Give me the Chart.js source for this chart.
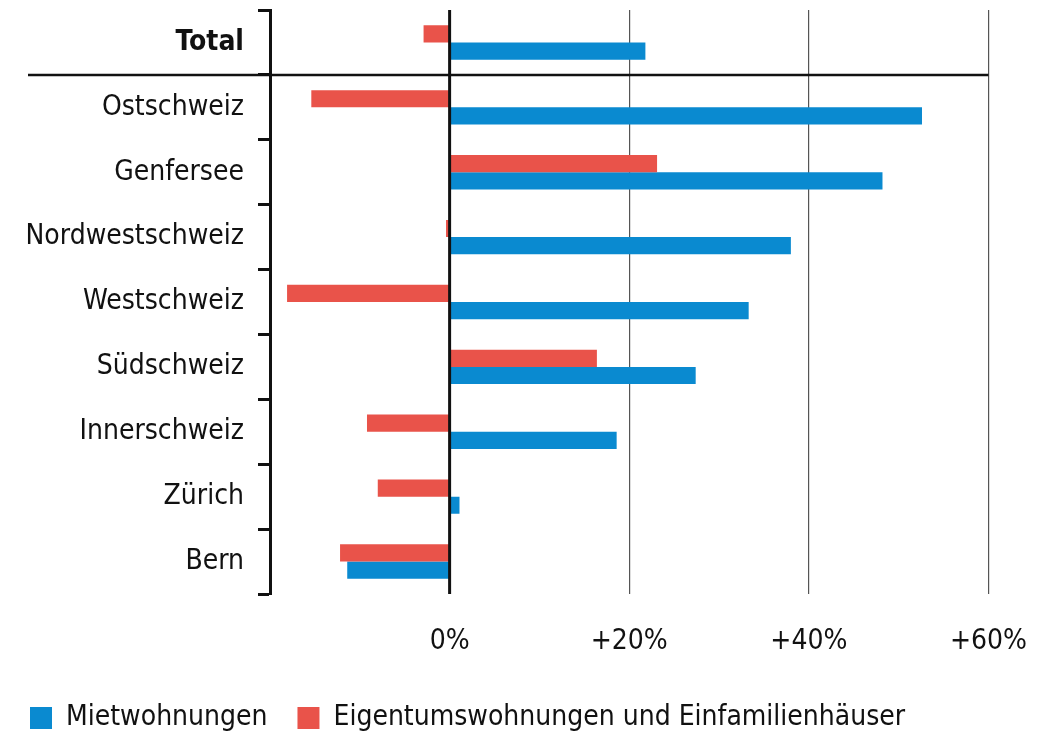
<!DOCTYPE html>
<html lang="de">
<head>
  <meta charset="UTF-8">
  <title>Mietwohnungen vs. Eigentum</title>
  <script src="https://cdn.jsdelivr.net/npm/chart.js"></script>
  <style>
    body { margin: 0; background: #fff; }
    #wrap { width: 1058px; height: 734px; }
  </style>
</head>
<body>
  <div id="wrap"><canvas id="chart"></canvas></div>
  <script>
    const regions = ['Total', 'Ostschweiz', 'Genfersee', 'Nordwestschweiz', 'Westschweiz',
                     'Südschweiz', 'Innerschweiz', 'Zürich', 'Bern'];
    const mietwohnungen = [21.8, 52.6, 48.2, 38.0, 33.3, 27.4, 18.6, 1.1, -11.4];
    const eigentum = [-2.9, -15.4, 23.1, -0.4, -18.1, 16.4, -9.2, -8.0, -12.2];
    const xTicks = [-20, 0, 20, 40, 60];

    const BLUE = '#0a8ad0';
    const RED = '#e9534a';
    const FONT = "'DejaVu Sans Condensed', 'Liberation Sans Narrow', sans-serif";

    // black separator under "Total" and the zero line on top of the bars
    const overlay = {
      id: 'overlay',
      afterDatasetsDraw(chart) {
        const { ctx, chartArea, scales } = chart;
        ctx.save();
        ctx.strokeStyle = '#111';
        ctx.lineWidth = 3;
        const x0 = scales.x.getPixelForValue(0);
        ctx.beginPath();
        ctx.moveTo(x0, chartArea.top);
        ctx.lineTo(x0, chartArea.bottom);
        ctx.stroke();
        const ySep = (scales.y.getPixelForValue(0) + scales.y.getPixelForValue(1)) / 2;
        ctx.lineWidth = 2.5;
        ctx.beginPath();
        ctx.moveTo(28, ySep);
        ctx.lineTo(chartArea.right, ySep);
        ctx.stroke();
        ctx.restore();
      }
    };

    new Chart(document.getElementById('chart'), {
      type: 'bar',
      data: {
        labels: regions,
        datasets: [
          { label: 'Eigentumswohnungen und Einfamilienhäuser', data: eigentum, backgroundColor: RED },
          { label: 'Mietwohnungen', data: mietwohnungen, backgroundColor: BLUE }
        ]
      },
      options: {
        indexAxis: 'y',
        responsive: true,
        maintainAspectRatio: false,
        animation: false,
        datasets: { bar: { categoryPercentage: 0.53, barPercentage: 1.0 } },
        layout: { padding: { top: 10, right: 67, left: 0, bottom: -8 } },
        scales: {
          x: {
            min: -20,
            max: 60,
            afterBuildTicks: (s) => { s.ticks = xTicks.map(v => ({ value: v })); },
            border: { display: false },
            grid: {
              drawTicks: false,
              color: (c) => (c.tick && c.tick.value > 0) ? '#555' : 'rgba(0,0,0,0)',
              lineWidth: 1.2
            },
            ticks: {
              padding: 31,
              color: '#111',
              font: { family: FONT, size: 28 },
              callback: (v) => v < 0 ? '' : (v === 0 ? '0%' : '+' + v + '%')
            },
            afterFit: (s) => { s.height = 80; }
          },
          y: {
            border: { display: true, color: '#111', width: 3 },
            grid: {
              offset: true,
              drawOnChartArea: false,
              drawTicks: true,
              tickLength: 12,
              tickWidth: 3,
              tickColor: '#111'
            },
            ticks: {
              padding: 14,
              color: '#111',
              font: (c) => ({ family: FONT, size: 28, weight: c.index === 0 ? 'bold' : 'normal' })
            },
            afterFit: (s) => { s.width = 270; s.paddingTop = 0; s.paddingBottom = 0; }
          }
        },
        plugins: {
          legend: {
            position: 'bottom',
            align: 'start',
            reverse: true,
            labels: {
              boxWidth: 22,
              boxHeight: 22,
              padding: 30,
              color: '#111',
              font: { family: FONT, size: 28 }
            }
          },
          tooltip: { enabled: false }
        }
      },
      plugins: [overlay]
    });
  </script>
</body>
</html>
